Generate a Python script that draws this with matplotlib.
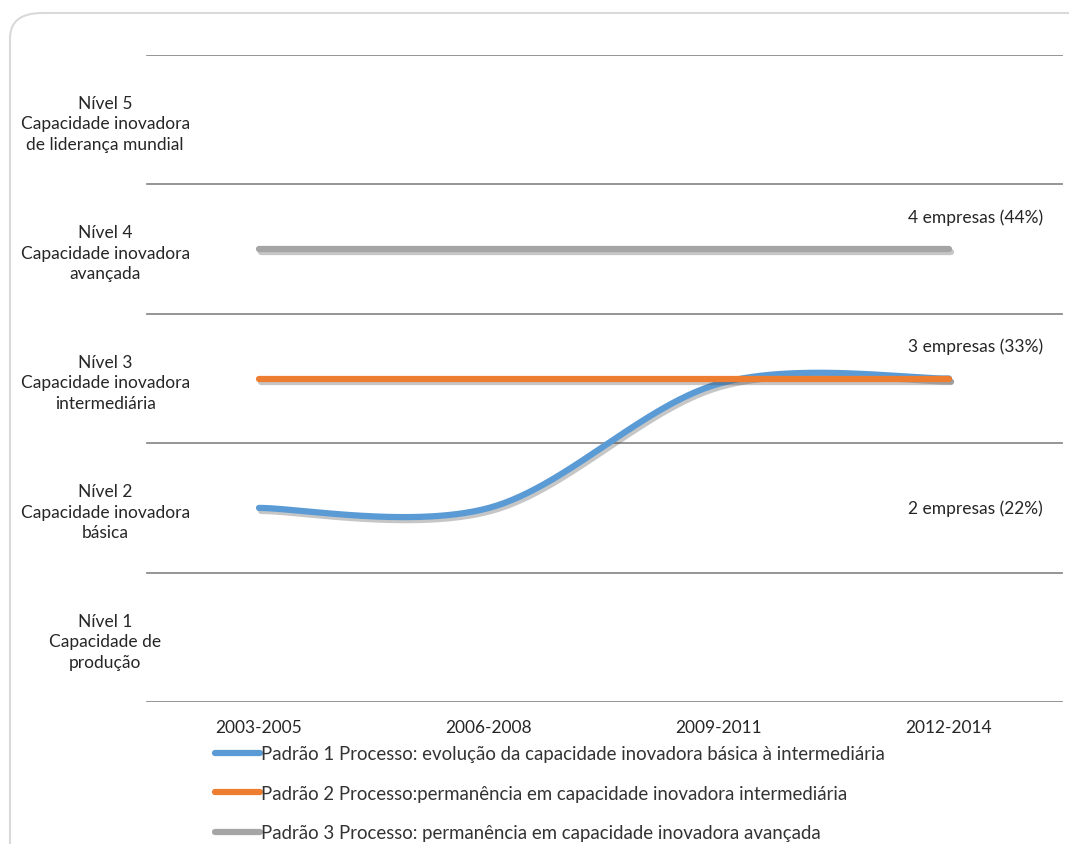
import matplotlib
matplotlib.use('agg')
import matplotlib.pyplot as plt
import matplotlib.patheffects as pe
import matplotlib.transforms as mtransforms
from matplotlib.patches import FancyBboxPatch
import numpy as np

plt.rcParams['font.family'] = ['Lato', 'DejaVu Sans']

periods = ['2003-2005', '2006-2008', '2009-2011', '2012-2014']
levels = ['Nível 1\nCapacidade de\nprodução',
          'Nível 2\nCapacidade inovadora\nbásica',
          'Nível 3\nCapacidade inovadora\nintermediária',
          'Nível 4\nCapacidade inovadora\navançada',
          'Nível 5\nCapacidade inovadora\nde liderança mundial']
series_names = ['Padrão 1 Processo: evolução da capacidade inovadora básica à intermediária',
                'Padrão 2 Processo:permanência em capacidade inovadora intermediária',
                'Padrão 3 Processo: permanência em capacidade inovadora avançada']
padrao1 = [2, 2, 2.96, 3]
padrao2 = [3, 3, 3, 3]
padrao3 = [4, 4, 4, 4]
colors = ['#5B9BD5', '#ED7D31', '#A5A5A5']
labels = ['2 empresas (22%)', '3 empresas (33%)', '4 empresas (44%)']
label_levels = [2, 3.25, 4.25]


def smooth(xs, ys, n=60):
    # excel-like smoothed line: bezier segments with catmull-rom control points
    pts = np.column_stack([xs, ys]).astype(float)
    ext = np.vstack([pts[0], pts, pts[-1]])
    t = np.linspace(0, 1, n)[:, None]
    out = []
    for i in range(len(pts) - 1):
        p0, p1, p2, p3 = ext[i], ext[i + 1], ext[i + 2], ext[i + 3]
        c1 = p1 + (p2 - p0) / 6.0
        c2 = p2 - (p3 - p1) / 6.0
        seg = ((1 - t) ** 3) * p1 + 3 * ((1 - t) ** 2) * t * c1 \
            + 3 * (1 - t) * t ** 2 * c2 + t ** 3 * p2
        out.append(seg if i == 0 else seg[1:])
    out = np.vstack(out)
    return out[:, 0], out[:, 1]


fig = plt.figure(figsize=(10.69, 8.45), dpi=100)
ax = fig.add_axes([144 / 1069, 1 - 703 / 845, 920 / 1069, 647 / 845])

# rounded frame around the chart
frame = FancyBboxPatch((10 / 1069, -0.1), 1.2, 1 - 14 / 845 + 0.1,
                       boxstyle='round,pad=0,rounding_size=0.03',
                       transform=fig.transFigure, fill=False,
                       edgecolor='#d9d9d9', linewidth=1.5, zorder=0)
fig.patches.append(frame)

ax.set_xlim(-0.5, 3.5)
ax.set_ylim(0.5, 5.5)
for y in np.arange(0.5, 6, 1):
    ax.axhline(y, color='#8c8c8c', linewidth=1.3, xmin=0.003, xmax=0.998)

x = np.arange(len(periods))
handles = []
for vals, c, name in zip([padrao1, padrao2, padrao3], colors, series_names):
    sx, sy = smooth(x, vals)
    line, = ax.plot(sx, sy, color=c, linewidth=4.5, solid_capstyle='round',
                    label=name, zorder=3)
    line.set_path_effects([pe.SimpleLineShadow(offset=(1.5, -2.2), shadow_color='#444444', alpha=0.3),
                           pe.Normal()])
    handles.append(ax.plot([], [], color=c, linewidth=4.5, solid_capstyle='round',
                           label=name)[0])

trans = mtransforms.blended_transform_factory(ax.transAxes, ax.transData)
for lab, lv in zip(labels, label_levels):
    ax.text((1043 - 144) / 920, lv, lab, transform=trans, ha='right', va='center',
            fontsize=12.5, color='#262626')

ax.set_xticks(x)
ax.set_xticklabels(periods, fontsize=12.5, color='#262626')
ax.set_yticks([1, 2, 3, 4, 5])
ax.set_yticklabels(levels, fontsize=12.5, color='#262626', ha='center',
                   linespacing=1.35)
ax.tick_params(axis='y', length=0, pad=28)
ax.tick_params(axis='x', length=0, pad=12)
for s in ax.spines.values():
    s.set_visible(False)

leg = fig.legend(handles=handles, loc='upper left',
                 bbox_to_anchor=(208 / 1069, 1 - 739 / 845),
                 frameon=False, fontsize=13.4, handlelength=2.4,
                 handletextpad=0.05, labelspacing=1.2, borderaxespad=0)
for t in leg.get_texts():
    t.set_color('#333333')

fig.savefig('out.png', dpi=100)
